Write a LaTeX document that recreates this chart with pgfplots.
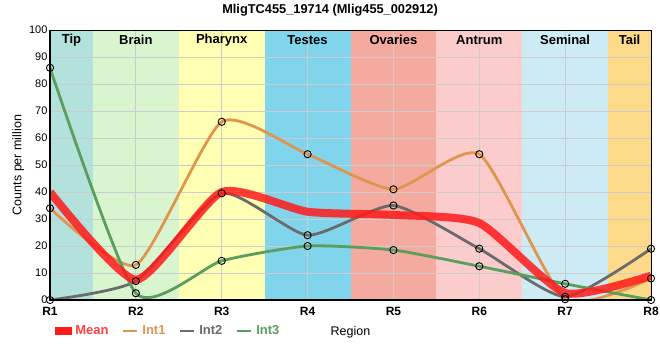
\documentclass[border=0pt]{standalone}
\usepackage{pgfplots}
\pgfplotsset{compat=1.18}
\usepackage{fontspec}
\setmainfont{Liberation Sans}
\setsansfont{Liberation Sans}
\definecolor{cTip}{HTML}{B3E2DD}
\definecolor{cBrain}{HTML}{D9F5D0}
\definecolor{cPharynx}{HTML}{FFFFB3}
\definecolor{cTestes}{HTML}{80D4EC}
\definecolor{cOvaries}{HTML}{F4AA9E}
\definecolor{cAntrum}{HTML}{FCCBCB}
\definecolor{cSeminal}{HTML}{CDEBF5}
\definecolor{cTail}{HTML}{FDD98A}
\definecolor{cInt1}{HTML}{E0954F}
\definecolor{cInt2}{HTML}{6B6B6B}
\definecolor{cInt3}{HTML}{5A9E5E}
\definecolor{cMean}{HTML}{FF1A1A}
\definecolor{cMeanTxt}{HTML}{FF4040}
\begin{document}
\begin{tikzpicture}
\begin{axis}[
  set layers,
  scale only axis,
  width=601pt, height=270pt,
  xmin=0, xmax=7, ymin=0, ymax=100,
  xtick={0,...,7},
  xticklabels={R1,R2,R3,R4,R5,R6,R7,R8},
  ytick={0,10,...,100},
  x tick label style={font=\fontsize{12}{14}\selectfont\bfseries, yshift=-4pt},
  y tick label style={font=\fontsize{11}{13}\selectfont, xshift=1pt},
  /pgf/number format/assume math mode=true,
  major tick length=0pt,
  grid=major,
  grid style={color=black!20, line width=0.8pt},
  axis line style={black, line width=0.8pt},
  clip mode=individual,
  xlabel={Region},
  xlabel style={at={(axis description cs:0.5,-0.1185)}, anchor=center, font=\fontsize{12.5}{14}\selectfont},
  ylabel={Counts per million},
  ylabel style={at={(axis description cs:-0.053,0.5)}, anchor=center, font=\fontsize{12.5}{14}\selectfont},
  title={MligTC455\_19714 (Mlig455\_002912)},
  title style={at={(axis description cs:0.466,1)}, anchor=south, yshift=4pt, font=\fontsize{12.8}{14}\selectfont\bfseries},
  legend columns=4,
  legend style={at={(axis description cs:0.008,-0.1145)}, anchor=west, draw=none, fill=none,
    font=\fontsize{13}{15}\selectfont\bfseries, column sep=2pt, inner sep=0pt,
    /tikz/every even column/.append style={column sep=11pt}},
  legend cell align=left,
]
% background bands
\begin{pgfonlayer}{axis background}
\fill[cTip] (axis cs:0,0) rectangle (axis cs:0.5,100);
\fill[cBrain] (axis cs:0.5,0) rectangle (axis cs:1.5,100);
\fill[cPharynx] (axis cs:1.5,0) rectangle (axis cs:2.5,100);
\fill[cTestes] (axis cs:2.5,0) rectangle (axis cs:3.5,100);
\fill[cOvaries] (axis cs:3.5,0) rectangle (axis cs:4.5,100);
\fill[cAntrum] (axis cs:4.5,0) rectangle (axis cs:5.5,100);
\fill[cSeminal] (axis cs:5.5,0) rectangle (axis cs:6.5,100);
\fill[cTail] (axis cs:6.5,0) rectangle (axis cs:7,100);
\end{pgfonlayer}
% lines
\addplot[cInt1, line width=2.8pt, smooth, tension=0.35, no marks, forget plot] coordinates {(0,34) (1,13) (2,66) (3,54) (4,41) (5,54) (6,0.3) (7,8)};
\addplot[cInt2, line width=2.8pt, smooth, tension=0.35, no marks, forget plot] coordinates {(0,0) (1,7) (2,39.5) (3,24) (4,35) (5,19) (6,1.2) (7,19)};
\addplot[cInt3, line width=2.8pt, smooth, tension=0.35, no marks, forget plot] coordinates {(0,86) (1,2.5) (2,14.5) (3,20) (4,18.5) (5,12.5) (6,6) (7,0)};
\addplot[cMean, line width=8pt, opacity=0.85, smooth, tension=0.35, no marks, forget plot] coordinates {(0,40) (1,7.5) (2,40) (3,32.7) (4,31.5) (5,28.5) (6,2.6) (7,9)};
% markers
\addplot[only marks, mark=o, mark size=3.6pt, mark options={black, line width=0.9pt}, forget plot] coordinates {(0,34) (1,13) (2,66) (3,54) (4,41) (5,54) (6,0.3) (7,8)};
\addplot[only marks, mark=o, mark size=3.6pt, mark options={black, line width=0.9pt}, forget plot] coordinates {(0,0) (1,7) (2,39.5) (3,24) (4,35) (5,19) (6,1.2) (7,19)};
\addplot[only marks, mark=o, mark size=3.6pt, mark options={black, line width=0.9pt}, forget plot] coordinates {(0,86) (1,2.5) (2,14.5) (3,20) (4,18.5) (5,12.5) (6,6) (7,0)};
% legend
\addlegendimage{legend image code/.code={\fill[cMean] (0pt,-3.5pt) rectangle (16pt,3.5pt);}}
\addlegendentry{\textcolor{cMeanTxt}{Mean}}
\addlegendimage{legend image code/.code={\draw[cInt1, line width=2.8pt] (0pt,0pt) -- (14pt,0pt);}}
\addlegendentry{\textcolor{cInt1}{Int1}}
\addlegendimage{legend image code/.code={\draw[cInt2, line width=2.8pt] (0pt,0pt) -- (14pt,0pt);}}
\addlegendentry{\textcolor{cInt2}{Int2}}
\addlegendimage{legend image code/.code={\draw[cInt3, line width=2.8pt] (0pt,0pt) -- (14pt,0pt);}}
\addlegendentry{\textcolor{cInt3}{Int3}}
% region labels
\node[font=\fontsize{13}{15}\selectfont\bfseries] at (axis cs:0.25,96.3) {Tip};
\node[font=\fontsize{13}{15}\selectfont\bfseries] at (axis cs:1,96.3) {Brain};
\node[font=\fontsize{13}{15}\selectfont\bfseries] at (axis cs:2,96.3) {Pharynx};
\node[font=\fontsize{13}{15}\selectfont\bfseries] at (axis cs:3,96.3) {Testes};
\node[font=\fontsize{13}{15}\selectfont\bfseries] at (axis cs:4,96.3) {Ovaries};
\node[font=\fontsize{13}{15}\selectfont\bfseries] at (axis cs:5,96.3) {Antrum};
\node[font=\fontsize{13}{15}\selectfont\bfseries] at (axis cs:6,96.3) {Seminal};
\node[font=\fontsize{13}{15}\selectfont\bfseries] at (axis cs:6.75,96.3) {Tail};
\draw[black, line width=2.5pt] (rel axis cs:0,1) -- (rel axis cs:0,0) -- (rel axis cs:1,0);
\end{axis}
\pgfresetboundingbox
\path[use as bounding box] (-50pt,-60pt) rectangle (610pt,300pt);
\end{tikzpicture}
\end{document}
